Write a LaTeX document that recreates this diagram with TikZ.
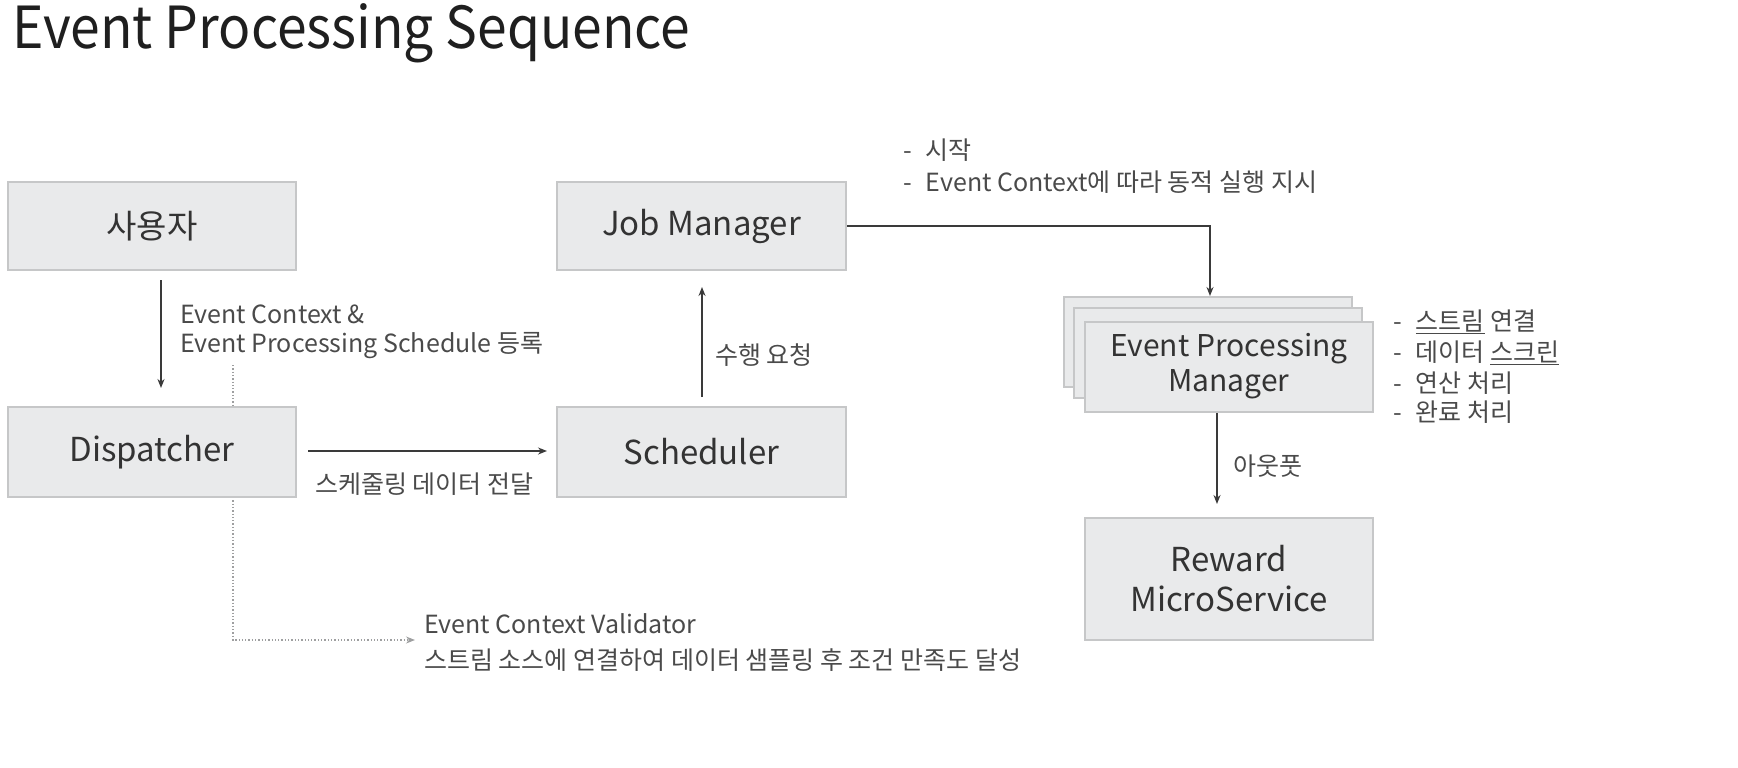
\documentclass[tikz,border=0pt]{standalone}
\usepackage{fontspec}
\setmainfont{Noto Sans CJK KR}
\newfontfamily\titlefont[FakeStretch=0.92]{Noto Sans CJK KR}
\usetikzlibrary{arrows.meta,positioning}
\definecolor{boxfill}{HTML}{E9EAEB}
\definecolor{boxline}{HTML}{C6C7C8}
\definecolor{txt}{HTML}{333333}
\definecolor{lbl}{HTML}{4A4A4A}
\definecolor{arr}{HTML}{3A3A3A}
\tikzset{
  box/.style={draw=boxline, line width=2pt, fill=boxfill, minimum width=288pt, minimum height=88pt, inner sep=0pt, align=center, text=txt, font=\fontsize{33}{40}\selectfont},
  lab/.style={anchor=west, inner sep=0pt, text=lbl, font=\fontsize{25}{30}\selectfont},
  conn/.style={draw=arr, line width=1.5pt, -{Stealth[length=9pt,width=7pt]}},
  dotconn/.style={draw=boxline!80!black, line width=1.3pt, dotted, -{Stealth[length=9pt,width=7pt]}}
}
\begin{document}
\begin{tikzpicture}[x=1pt,y=-1pt]
\useasboundingbox (0,0) rectangle (1738,768);
\node[anchor=base west, inner sep=0pt, text height=42pt, text depth=12pt, text=black!88, font=\titlefont\fontsize{58}{66}\selectfont] (title) at (12,49) {Event Processing Sequence};

% dotted validator line (behind boxes)
\coordinate (dtop) at (233,365);
\coordinate (dcorner) at (233,640);
\coordinate (dend) at (415,640);
\draw[dotconn] (dtop) -- (dcorner) -- (dend);

\node[box] (user) at (152,226) {사용자};
\node[box, minimum height=90pt] (disp) at (152,452) {Dispatcher};
\node[box, minimum width=289pt] (jm) at (701.5,226) {Job Manager};
\node[box, minimum width=289pt, minimum height=90pt] (sched) at (701.5,452) {Scheduler};

\node[box, minimum height=90pt] (epmb) at (1208,342) {};
\node[box, minimum height=90pt] (epmm) at (1218,353) {};
\node[box, minimum height=90pt, font=\fontsize{30}{35}\selectfont] (epm) at (1229,366.5) {Event Processing\\Manager};

\node[box, minimum height=122pt] (rw) at (1229,579) {Reward\\MicroService};

% connectors
\coordinate (ua) at (161,280);
\coordinate (ub) at (161,388);
\draw[conn] (ua) -- (ub);
\node[lab] (l1) at (180,314) {Event Context \&};
\node[lab] (l2) at (180,346) {Event Processing Schedule 등록};

\coordinate (da) at (308,451);
\coordinate (db) at (547,451);
\draw[conn] (da) -- (db);
\node[lab] (l3) at (315,484) {스케줄링 데이터 전달};

\coordinate (sa) at (702,397);
\coordinate (sb) at (702,287);
\draw[conn] (sa) -- (sb);
\node[lab] (l4) at (715,355) {수행 요청};

\coordinate (jb) at (1210,296);
\draw[conn] (jm.east) -| (jb);
\node[lab] (l5) at (903,150) {-\hspace{14pt}시작};
\node[lab] (l6) at (903,182) {-\hspace{14pt}Event Context에 따라 동적 실행 지시};

\coordinate (ea) at (1217,413);
\coordinate (eb) at (1217,504);
\draw[conn] (ea) -- (eb);
\node[lab] (l7) at (1233,466) {아웃풋};

\node[lab] (r1) at (1393,322) {-\hspace{14pt}\underline{스트림} 연결};
\node[lab] (r2) at (1393,353) {-\hspace{14pt}데이터 \underline{스크린}};
\node[lab] (r3) at (1393,383) {-\hspace{14pt}연산 처리};
\node[lab] (r4) at (1393,412) {-\hspace{14pt}완료 처리};

\node[lab] (v1) at (424,624) {Event Context Validator};
\node[lab] (v2) at (424,660) {스트림 소스에 연결하여 데이터 샘플링 후 조건 만족도 달성};
\end{tikzpicture}
\end{document}
